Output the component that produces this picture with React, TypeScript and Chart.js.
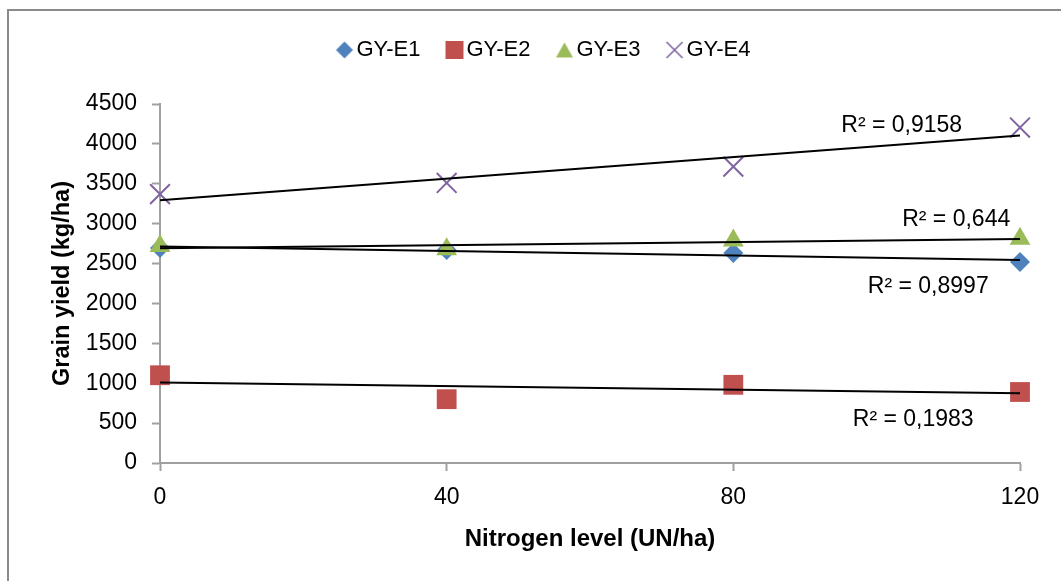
import { useEffect, useRef } from "react";
import { Chart, registerables } from "chart.js";

Chart.register(...registerables);

// Nitrogen rates (UN/ha) and grain yield per environment (kg/ha)
const nitrogenLevels = [0, 40, 80, 120];
const gyE1 = [2695, 2670, 2632, 2519];
const gyE2 = [1100, 800, 980, 890];
const gyE3 = [2720, 2680, 2790, 2810];
const gyE4 = [3370, 3510, 3715, 4205];

const seriesNames = ["GY-E1", "GY-E2", "GY-E3", "GY-E4"];
const seriesColors = ["#4F81BD", "#C0504D", "#9BBB59", "#8064A2"];

// Coefficients of determination of the linear trend of each series
const r2Texts = ["R² = 0,8997", "R² = 0,1983", "R² = 0,644", "R² = 0,9158"];
// Where each R² note sits, in axis units (x, y)
const r2Anchors: [number, number][] = [
  [107.2, 2215],
  [105.1, 540],
  [111.1, 3045],
  [103.5, 4225],
];

const yMin = 0;
const yMax = 4500;
const yStep = 500;
const xMin = 0;
const xMax = 120;
const xStep = 40;

const FONT = "'Liberation Sans', Arial, sans-serif";

function linearFit(xs: number[], ys: number[]) {
  const n = xs.length;
  const mx = xs.reduce((a, b) => a + b, 0) / n;
  const my = ys.reduce((a, b) => a + b, 0) / n;
  let sxy = 0;
  let sxx = 0;
  for (let i = 0; i < n; i++) {
    sxy += (xs[i] - mx) * (ys[i] - my);
    sxx += (xs[i] - mx) * (xs[i] - mx);
  }
  const slope = sxy / sxx;
  return { slope, intercept: my - slope * mx };
}

// Small marker images used as legend symbols
function makeMarker(kind: string, color: string): HTMLCanvasElement {
  const c = document.createElement("canvas");
  c.width = 20;
  c.height = 20;
  const g = c.getContext("2d")!;
  g.fillStyle = color;
  g.strokeStyle = color;
  g.beginPath();
  if (kind === "diamond") {
    g.moveTo(10, 1.5);
    g.lineTo(18.5, 10);
    g.lineTo(10, 18.5);
    g.lineTo(1.5, 10);
    g.closePath();
    g.fill();
  } else if (kind === "square") {
    g.rect(1, 1, 18, 18);
    g.fill();
  } else if (kind === "triangle") {
    g.moveTo(10, 2.5);
    g.lineTo(18.5, 17.5);
    g.lineTo(1.5, 17.5);
    g.closePath();
    g.fill();
  } else {
    g.lineWidth = 1.6;
    g.moveTo(2, 2);
    g.lineTo(18, 18);
    g.moveTo(18, 2);
    g.lineTo(2, 18);
    g.stroke();
  }
  return c;
}

const frame = {
  id: "frame",
  afterDraw(chart: Chart) {
    const { ctx, width, height } = chart;
    ctx.save();
    ctx.strokeStyle = "#8a8a8a";
    ctx.lineWidth = 2;
    ctx.beginPath();
    ctx.moveTo(8, height);
    ctx.lineTo(8, 10);
    ctx.lineTo(width, 10);
    ctx.stroke();
    ctx.restore();
  },
};

const r2Notes = {
  id: "r2Notes",
  afterDatasetsDraw(chart: Chart) {
    const { ctx } = chart;
    const xs = chart.scales.x;
    const ys = chart.scales.y;
    ctx.save();
    ctx.fillStyle = "#000";
    ctx.font = `23px ${FONT}`;
    ctx.textAlign = "center";
    ctx.textBaseline = "middle";
    r2Texts.forEach((t, i) => {
      const [ax, ay] = r2Anchors[i];
      ctx.fillText(t, xs.getPixelForValue(ax), ys.getPixelForValue(ay));
    });
    ctx.restore();
  },
};

// Legend band height and horizontal offset of the legend row
const legendBand = {
  id: "legendBand",
  afterInit(chart: any) {
    const legend = chart.legend;
    if (!legend) return;
    const fit = legend.fit;
    legend.fit = function () {
      fit.call(this);
      this.height = 98;
    };
  },
  afterLayout(chart: any) {
    const legend = chart.legend;
    if (!legend) return;
    legend.left += 74;
    legend.adjustHitBoxes && legend.adjustHitBoxes();
  },
};

export default function App() {
  const ref = useRef<HTMLCanvasElement | null>(null);

  useEffect(() => {
    if (!ref.current) return;
    const series = [gyE1, gyE2, gyE3, gyE4];
    const styles = ["rectRot", "rect", "triangle", "crossRot"];
    const legendKinds = ["diamond", "square", "triangle", "cross"];
    const legendMarks = legendKinds.map((k, i) => makeMarker(k, seriesColors[i]));
    const radii = [10, 14, 12, 14];
    const drawOrder = [4, 3, 2, 1];

    const pointSets = series.map((vals, i) => ({
      type: "scatter" as const,
      label: seriesNames[i],
      data: nitrogenLevels.map((x, j) => ({ x, y: vals[j] })),
      pointStyle: styles[i],
      pointRadius: radii[i],
      pointHoverRadius: radii[i],
      backgroundColor: seriesColors[i],
      borderColor: seriesColors[i],
      pointBorderWidth: i === 3 ? 2 : 0,
      borderWidth: i === 3 ? 2 : 0,
      showLine: false,
      clip: false as any,
      order: drawOrder[i],
    }));

    const trendSets = series.map((vals, i) => {
      const { slope, intercept } = linearFit(nitrogenLevels, vals);
      return {
        type: "scatter" as const,
        label: `trend ${seriesNames[i]}`,
        data: [
          { x: xMin, y: intercept + slope * xMin },
          { x: xMax, y: intercept + slope * xMax },
        ],
        showLine: true,
        borderColor: "#000",
        borderWidth: 2,
        pointRadius: 0,
        pointHoverRadius: 0,
        backgroundColor: "#000",
        clip: false as any,
        order: 0,
      };
    });

    const baseLabels = (Chart.defaults.plugins.legend.labels as any).generateLabels;

    const chart = new Chart(ref.current, {
      type: "scatter",
      data: { datasets: [...pointSets, ...trendSets] as any },
      options: {
        animation: false,
        responsive: false,
        layout: { padding: { top: 6, left: 0, right: 41, bottom: 0 } },
        plugins: {
          tooltip: { enabled: false },
          legend: {
            position: "top",
            align: "center",
            labels: {
              usePointStyle: true,
              boxHeight: 18,
              boxWidth: 2,
              padding: 33,
              color: "#000",
              font: { family: FONT, size: 22 },
              generateLabels: (ch: any) =>
                baseLabels(ch).map((item: any) =>
                  item.datasetIndex < 4
                    ? { ...item, pointStyle: legendMarks[item.datasetIndex] }
                    : item
                ),
              filter: (item: any) => item.datasetIndex < 4,
              sort: (a: any, b: any) => a.datasetIndex - b.datasetIndex,
            },
          },
        },
        scales: {
          x: {
            type: "linear",
            min: xMin,
            max: xMax,
            afterFit: (s: any) => {
              s.height = 118;
            },
            ticks: {
              stepSize: xStep,
              color: "#000",
              padding: 13,
              font: { family: FONT, size: 23 },
            },
            grid: {
              drawOnChartArea: false,
              drawTicks: true,
              tickLength: 8,
              tickWidth: 2,
              color: "#a0a0a0",
            },
            border: { display: true, color: "#a0a0a0", width: 2 },
            title: {
              display: true,
              text: "Nitrogen level (UN/ha)",
              color: "#000",
              font: { family: FONT, size: 24, weight: "bold" },
              padding: { top: 0, bottom: 27 },
            },
          },
          y: {
            type: "linear",
            min: yMin,
            max: yMax,
            afterFit: (s: any) => {
              s.width = 160;
            },
            ticks: {
              stepSize: yStep,
              color: "#000",
              padding: 15,
              font: { family: FONT, size: 23 },
              callback: (v: any) => String(v),
            },
            grid: {
              drawOnChartArea: false,
              drawTicks: true,
              tickLength: 8,
              tickWidth: 2,
              color: "#a0a0a0",
            },
            border: { display: true, color: "#a0a0a0", width: 2 },
            title: {
              display: true,
              text: "Grain yield (kg/ha)",
              color: "#000",
              font: { family: FONT, size: 23.5, weight: "bold" },
              padding: { top: 48, bottom: 0 },
            },
          },
        },
      },
      plugins: [legendBand, r2Notes, frame],
    });
    return () => chart.destroy();
  }, []);

  return (
    <div style={{ position: "absolute", left: 0, top: 0, width: 1061, height: 581, background: "#fff" }}>
      <canvas ref={ref} width={1061} height={581} style={{ display: "block", width: 1061, height: 581 }} />
    </div>
  );
}
